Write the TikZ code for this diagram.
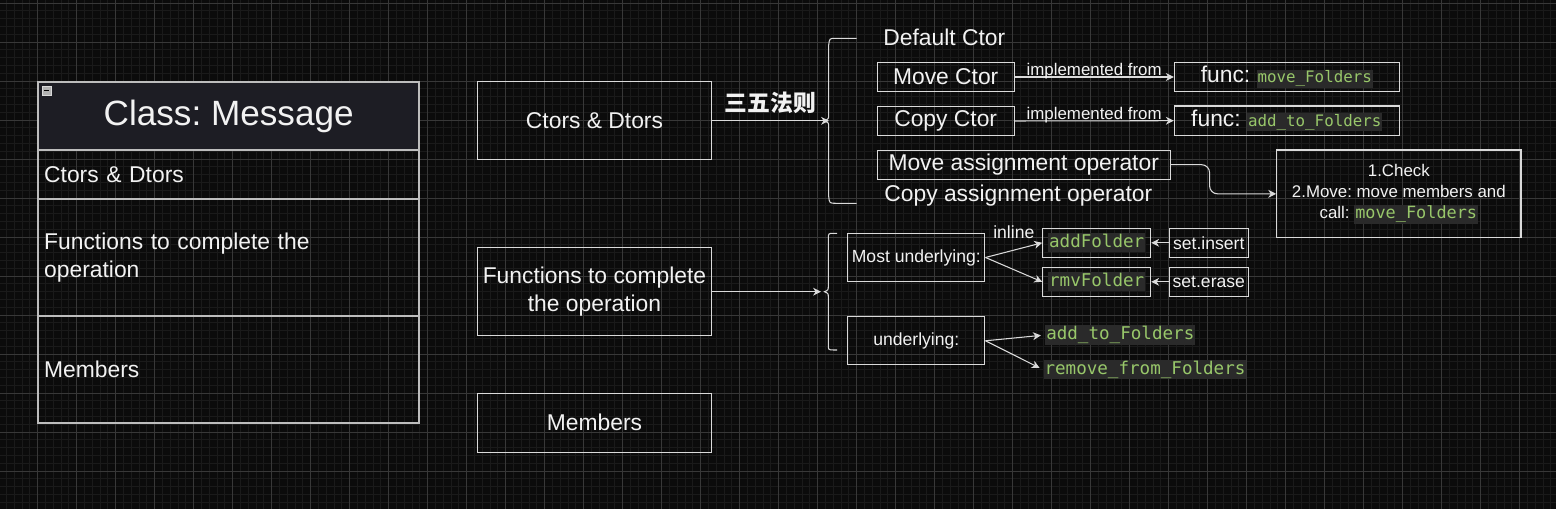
\documentclass[tikz,border=0pt]{standalone}
\usepackage{fontspec}
\setmainfont{Liberation Sans}
\setmonofont{DejaVu Sans Mono}
\newfontfamily\cjkfont{Noto Sans CJK SC}
\usepackage{xcolor}
\usetikzlibrary{arrows.meta}
\frenchspacing

\definecolor{bgblack}{HTML}{0B0B0B}
\definecolor{gridminor}{HTML}{1A1A1A}
\definecolor{gridmajor}{HTML}{383838}
\definecolor{fgwhite}{HTML}{F2F2F2}
\definecolor{linegray}{HTML}{DADADA}
\definecolor{rowgray}{HTML}{BDBDBD}
\definecolor{headfill}{HTML}{1D1D24}
\definecolor{codebg}{HTML}{2A2A2A}
\definecolor{codegreen}{HTML}{98C76A}

% one pixel of the drawing
\newlength{\pxu}
\setlength{\pxu}{0.02cm}

\newcommand{\txtbig}{\fontsize{20}{24}\selectfont}
\newcommand{\txtmain}{\fontsize{13}{15.8}\selectfont}
\newcommand{\txtsmall}{\fontsize{9.6}{12.1}\selectfont}
\newcommand{\txtnote}{\fontsize{10}{12}\selectfont}
\newcommand{\txtcode}{\fontsize{10}{12}\selectfont}
\newcommand{\txtcodesm}{\fontsize{9}{11}\selectfont}

\newcommand{\srccode}[1]{{\setlength{\fboxsep}{1\pxu}\colorbox{codebg}{\ttfamily\color{codegreen}\vphantom{Fg}#1}}}

\begin{document}
\begin{tikzpicture}[
    x=0.02cm,
    y=-0.02cm,
    >={Stealth[length=4.5pt,width=4.5pt,inset=1.4pt]},
    nodebox/.style={
        draw=linegray,
        line width=0.6pt,
        text=fgwhite,
        inner sep=0pt,
        align=center
    },
    classrow/.style={
        draw=rowgray,
        line width=0.9pt,
        minimum width=381\pxu,
        text width=369\pxu,
        inner xsep=6\pxu,
        outer sep=0pt,
        align=left,
        text=fgwhite,
        font=\txtmain
    },
    headbox/.style={
        draw=rowgray,
        line width=0.9pt,
        fill=headfill,
        minimum width=381\pxu,
        minimum height=68.3\pxu,
        outer sep=0pt,
        text=fgwhite,
        font=\txtbig
    },
    plaintext/.style={
        text=fgwhite,
        inner sep=0pt
    },
    edgetext/.style={
        text=fgwhite,
        inner sep=0pt
    },
    conn/.style={
        ->,
        draw=linegray,
        line width=0.6pt
    },
    curlybrace/.style={
        draw=linegray,
        line width=0.6pt
    }
]

% Background grid
\fill[bgblack] (0,0) rectangle (1556,509);
\useasboundingbox (0,0) rectangle (1556,509);
\foreach \k in {0,...,200} {
    \draw[gridminor, line width=0.4pt] ({-1.5+7.8*\k},0) -- ++(0,509);
}
\foreach \k in {0,...,66} {
    \draw[gridminor, line width=0.4pt] (0,{-4.8+7.8*\k}) -- ++(1556,0);
}
\foreach \k in {0,...,40} {
    \draw[gridmajor, line width=0.5pt] ({-1.5+39*\k},0) -- ++(0,509);
}
\foreach \k in {0,...,13} {
    \draw[gridmajor, line width=0.5pt] (0,{3+39*\k}) -- ++(1556,0);
}


% Class box
\node[
    headbox
] (classhead) at (228.7,116) {Class: Message};

\node[
    classrow,
    minimum height=48.7\pxu,
    anchor=north
] (rowctors) at (classhead.south) {Ctors \& Dtors};

\node[
    classrow,
    minimum height=117\pxu,
    anchor=north
] (rowfuncs) at (rowctors.south) {Functions to complete the\\operation};

\node[
    classrow,
    minimum height=107\pxu,
    anchor=north
] (rowmembers) at (rowfuncs.south) {Members};

% collapse icon
\draw[
    fill=gray!60,
    draw=gray!30
] (42.3,86) rectangle (51,95);
\draw[
    black,
    line width=0.7pt
] (44.3,90.5) -- (49,90.5);


% Member groups
\node[
    nodebox,
    font=\txtmain,
    minimum width=234.4\pxu,
    minimum height=78.3\pxu
] (ctors) at (594.5,120.8) {Ctors \& Dtors};

\node[
    nodebox,
    font=\txtmain,
    minimum width=234.4\pxu,
    minimum height=88\pxu
] (funcs) at (594.5,291.7) {Functions to complete\\the operation};

\node[
    nodebox,
    font=\txtmain,
    minimum width=234.4\pxu,
    minimum height=59\pxu
] (members) at (594.5,422.8) {Members};


% Brace 1: the five special members
\draw[
    curlybrace
] (856.7,38.3) -- (836,38.3) .. controls (829.5,38.3) .. (828.7,45)
    -- (828.7,114) .. controls (828.7,119) .. (824,120.8)
    .. controls (828.7,122.6) .. (828.7,127.5)
    -- (828.7,196.5) .. controls (829.5,203.3) .. (836,203.3) -- (856.7,203.3);
\coordinate (bracetop) at (829,120.8);

\draw[
    conn
] (ctors.east) -- (bracetop) node[
    midway,
    above=4pt,
    inner sep=0pt,
    text=fgwhite,
    font=\fontsize{13}{15}\cjkfont\bfseries
] {三五法则};

\node[
    plaintext,
    font=\txtmain,
    anchor=base
] (defctor) at (944.3,46) {Default Ctor};

\node[
    nodebox,
    font=\txtmain,
    minimum width=136.7\pxu,
    minimum height=29.4\pxu
] (movector) at (945.7,77) {Move Ctor};

\node[
    nodebox,
    font=\txtmain,
    minimum width=136.7\pxu,
    minimum height=29.4\pxu
] (copyctor) at (945.7,121) {Copy Ctor};

\node[
    nodebox,
    font=\txtmain,
    minimum width=292.7\pxu,
    minimum height=29.3\pxu
] (moveassign) at (1023.7,164.7) {Move assignment operator};

\node[
    plaintext,
    font=\txtmain,
    anchor=base
] (copyassign) at (1018.3,201.7) {Copy assignment operator};

% helper functions
\node[
    nodebox,
    font=\txtmain,
    minimum width=225\pxu,
    minimum height=29.4\pxu
] (funcmove) at (1286.8,77) {func: {\txtcodesm\srccode{move\_Folders}}};

\node[
    nodebox,
    font=\txtmain,
    minimum width=225\pxu,
    minimum height=29.4\pxu
] (funcadd) at (1286.8,120.7) {func: {\txtcodesm\srccode{add\_to\_Folders}}};

\draw[
    conn
] (movector.east) -- (funcmove.west) node[
    midway,
    above=-1.5pt,
    edgetext,
    font=\txtsmall
] {implemented from};

\draw[
    conn
] (copyctor.east) -- (funcadd.west) node[
    midway,
    above=-1.5pt,
    edgetext,
    font=\txtsmall
] {implemented from};

\node[
    nodebox,
    font=\txtsmall,
    minimum width=244.3\pxu,
    minimum height=87.7\pxu
] (checkbox) at (1398.85,193.85) {1.Check\\2.Move: move members and\\call: \srccode{move\_Folders}};

\draw[
    conn,
    rounded corners=8\pxu
] (moveassign.east) -- ++(39,0) |- (checkbox.west);


% Brace 2: the folder functions
\draw[
    curlybrace
] (837,233.3) -- (834,233.3) .. controls (828.3,233.3) .. (828.3,239)
    -- (828.3,286) .. controls (828.3,290) .. (824.5,291.7)
    .. controls (828.3,293.4) .. (828.3,297.4)
    -- (828.3,344.5) .. controls (828.3,350) .. (834,350) -- (837,350);
\coordinate (bracelow) at (821,291.7);

\draw[
    conn
] (funcs.east) -- (bracelow);

\node[
    nodebox,
    font=\txtnote,
    minimum width=137.3\pxu,
    minimum height=48.4\pxu
] (mostund) at (916.3,257.5) {Most underlying:};

\node[
    nodebox,
    font=\txtnote,
    minimum width=137.3\pxu,
    minimum height=48.3\pxu
] (underlying) at (916.3,340.8) {underlying:};

\node[
    nodebox,
    font=\txtcode,
    minimum width=108\pxu,
    minimum height=29\pxu
] (addfolder) at (1096.7,242.8) {\srccode{addFolder}};

\node[
    nodebox,
    font=\txtcode,
    minimum width=108\pxu,
    minimum height=29\pxu
] (rmvfolder) at (1096.7,281.8) {\srccode{rmvFolder}};

\node[
    nodebox,
    font=\txtnote,
    minimum width=79\pxu,
    minimum height=29\pxu
] (setinsert) at (1208.8,242.8) {set.insert};

\node[
    nodebox,
    font=\txtnote,
    minimum width=79\pxu,
    minimum height=29\pxu
] (seterase) at (1208.8,281.8) {set.erase};

\node[
    plaintext,
    font=\txtcode
] (addto) at (1120.3,335) {\srccode{add\_to\_Folders}};

\node[
    plaintext,
    font=\txtcode
] (removefrom) at (1145,369.7) {\srccode{remove\_from\_Folders}};

\draw[
    conn
] (mostund.east) -- (addfolder.west) node[
    midway,
    above=6.5pt,
    edgetext,
    font=\txtnote
] {inline};

\draw[
    conn
] (mostund.east) -- (rmvfolder.west);

\draw[
    conn
] (setinsert.west) -- (addfolder.east);

\draw[
    conn
] (seterase.west) -- (rmvfolder.east);

\draw[
    conn,
    shorten >=4\pxu
] (underlying.east) -- (addto.west);

\draw[
    conn,
    shorten >=4\pxu
] (underlying.east) -- (removefrom.west);

\end{tikzpicture}
\end{document}
